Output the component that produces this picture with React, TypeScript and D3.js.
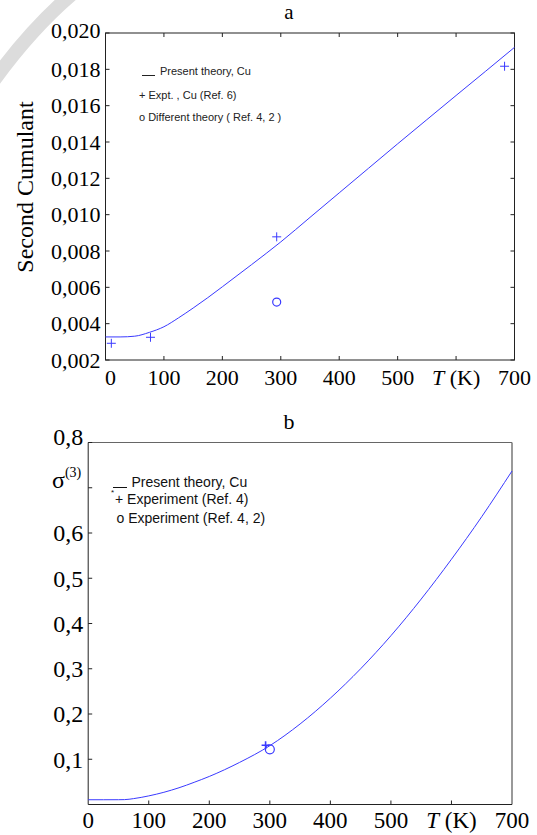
import * as d3 from "d3";

// panel a: second cumulant of Cu
const tempA = [0, 25, 50, 75, 100, 125, 150, 175, 200, 250, 300, 350, 400, 450, 500, 550, 600, 650, 700];
const theoryA = [0.00327, 0.00327, 0.00331, 0.00352, 0.00383, 0.00432, 0.00486, 0.00543, 0.00603, 0.00725, 0.0085, 0.00985, 0.0112, 0.01255, 0.0139, 0.01523, 0.01656, 0.01788, 0.01921];
const exptTA = [10, 77, 293, 683];
const exptVA = [0.00292, 0.00325, 0.00878, 0.01817];
const otherTA = [293];
const otherVA = [0.00519];
const yTicksA = [0.002, 0.004, 0.006, 0.008, 0.01, 0.012, 0.014, 0.016, 0.018, 0.02];

// panel b: third cumulant
const tempB = [0, 25, 50, 60, 75, 100, 125, 150, 175, 200, 250, 300, 350, 400, 450, 500, 550, 600, 650, 700];
const theoryB = [0.0105, 0.0105, 0.0106, 0.0108, 0.013, 0.019, 0.027, 0.037, 0.049, 0.062, 0.093, 0.130, 0.178, 0.235, 0.300, 0.373, 0.454, 0.542, 0.636, 0.737];
const exptTB = [293];
const exptVB = [0.131];
const otherTB = [300];
const otherVB = [0.122];
const yTicksB = [0.1, 0.2, 0.3, 0.4, 0.5, 0.6, 0.7, 0.8];

const xTicks = [0, 100, 200, 300, 400, 500, 600, 700];

const serif = "'Liberation Serif', 'Times New Roman', serif";
const sans = "'Liberation Sans', Arial, sans-serif";
const blue = "#3a3aff";

const comma = (f: string) => (v: number) => d3.format(f)(v).replace(".", ",");

function XLabel({ x, y, t, size }: { x: number; y: number; t: number; size: number }) {
  if (t === 600) {
    return (
      <text x={x} y={y} textAnchor="middle" fontFamily={serif} fontSize={size}>
        <tspan fontStyle="italic">T</tspan> (K)
      </text>
    );
  }
  return (
    <text x={x} y={y} textAnchor="middle" fontFamily={serif} fontSize={size}>
      {t}
    </text>
  );
}

function Plus({ cx, cy, s, w }: { cx: number; cy: number; s: number; w: number }) {
  return (
    <path d={`M${cx - s},${cy}H${cx + s}M${cx},${cy - s}V${cy + s}`} stroke={blue} strokeWidth={w} />
  );
}

function PanelA() {
  const left = 105.5, right = 514.5, top = 33, bottom = 360;
  const x = d3.scaleLinear().domain([0, 700]).range([left, right]);
  const y = d3.scaleLinear().domain([0.002, 0.02]).range([bottom, top]);
  const line = d3.line<number>().x((_, i) => x(tempA[i])).y((d) => y(d)).curve(d3.curveMonotoneX);
  const fmt = comma(".3f");
  return (
    <g>
      <text x={289} y={19} textAnchor="middle" fontFamily={serif} fontSize={21}>a</text>
      <text transform="translate(33,187) rotate(-90)" textAnchor="middle" fontFamily={serif} fontSize={24}>
        Second Cumulant
      </text>
      <rect x={left} y={top} width={right - left} height={bottom - top} fill="none" stroke="#222" />
      {yTicksA.map((t) => (
        <g key={t}>
          <line x1={left} x2={left + 4} y1={y(t)} y2={y(t)} stroke="#222" />
          <line x1={right} x2={right - 4} y1={y(t)} y2={y(t)} stroke="#222" />
          <text x={left - 5} y={y(t) + (t === 0.02 ? -3 : 0)} dy="0.35em" textAnchor="end" fontFamily={serif} fontSize={22}>
            {fmt(t)}
          </text>
        </g>
      ))}
      {xTicks.map((t) => (
        <g key={t}>
          <line x1={x(t)} x2={x(t)} y1={bottom} y2={bottom - 4} stroke="#222" />
          <line x1={x(t)} x2={x(t)} y1={top} y2={top + 4} stroke="#222" />
          <XLabel x={x(t) + (t === 0 ? 5 : 0)} y={385} t={t} size={22} />
        </g>
      ))}
      <path d={line(theoryA) ?? ""} fill="none" stroke={blue} strokeWidth={1} />
      {exptTA.map((t, i) => (
        <Plus key={t} cx={x(t)} cy={y(exptVA[i])} s={4.5} w={1} />
      ))}
      {otherTA.map((t, i) => (
        <circle key={t} cx={x(t)} cy={y(otherVA[i])} r={4} fill="none" stroke={blue} strokeWidth={1.2} />
      ))}
      <g fontFamily={sans} fontSize={11} fill="#222">
        <line x1={142} x2={155} y1={75.5} y2={75.5} stroke="#222" />
        <text x={160} y={75}>Present theory, Cu</text>
        <text x={139} y={99}>+ Expt.  , Cu (Ref. 6)</text>
        <text x={139} y={121}>o Different theory ( Ref. 4, 2 )</text>
      </g>
    </g>
  );
}

function PanelB() {
  const left = 88.2, right = 512, top = 442.5, bottom = 804.5;
  const x = d3.scaleLinear().domain([0, 700]).range([left, right]);
  const y = d3.scaleLinear().domain([0, 0.8]).range([bottom, top]);
  const line = d3.line<number>().x((_, i) => x(tempB[i])).y((d) => y(d)).curve(d3.curveMonotoneX);
  const fmt = comma(".1f");
  return (
    <g>
      <text x={289} y={429} textAnchor="middle" fontFamily={serif} fontSize={22}>b</text>
      <line x1={left} x2={right} y1={top} y2={top} stroke="#666" />
      <line x1={right} x2={right} y1={top} y2={bottom} stroke="#777" strokeWidth={1.5} />
      <line x1={left} x2={left} y1={top} y2={bottom} stroke="#222" />
      <line x1={left} x2={right} y1={bottom} y2={bottom} stroke="#222" />
      {yTicksB.map((t) => (
        <g key={t}>
          <line x1={left} x2={left + 4} y1={y(t)} y2={y(t)} stroke="#222" />
          {t === 0.7 ? (
            <text x={52} y={488} fontFamily={serif} fontSize={24}>
              σ<tspan fontSize={14} dy={-11}>(3)</tspan>
            </text>
          ) : (
            <text x={left - 5} y={y(t) + (t === 0.8 ? -6 : 0)} dy="0.35em" textAnchor="end" fontFamily={serif} fontSize={24}>
              {fmt(t)}
            </text>
          )}
        </g>
      ))}
      {xTicks.map((t) => (
        <g key={t}>
          {t > 0 && t < 700 && <line x1={x(t)} x2={x(t)} y1={bottom} y2={bottom - 4} stroke="#222" />}
          <XLabel x={x(t)} y={828} t={t} size={23} />
        </g>
      ))}
      <path d={line(theoryB) ?? ""} fill="none" stroke={blue} strokeWidth={1} />
      {exptTB.map((t, i) => (
        <Plus key={t} cx={x(t)} cy={y(exptVB[i])} s={4} w={1.6} />
      ))}
      {otherTB.map((t, i) => (
        <circle key={t} cx={x(t)} cy={y(otherVB[i])} r={4.5} fill="none" stroke={blue} strokeWidth={1.2} />
      ))}
      <g fontFamily={sans} fontSize={14} fill="#111">
        <line x1={113} x2={127} y1={487.5} y2={487.5} stroke="#111" />
        <text x={111} y={495} fontSize={8}>*</text>
        <text x={131.5} y={486.5}>Present theory, Cu</text>
        <text x={115} y={504}>+ Experiment (Ref. 4)</text>
        <text x={116.5} y={522.5}>o Experiment (Ref. 4, 2)</text>
      </g>
    </g>
  );
}

export default function App() {
  return (
    <svg width={537} height={835} style={{ position: "absolute", left: 0, top: 0, background: "#fff" }}>
      <path d="M72,-6 Q32,28 -6,80" fill="none" stroke="#dcdcdc" strokeWidth={14} />
      <PanelA />
      <PanelB />
    </svg>
  );
}
